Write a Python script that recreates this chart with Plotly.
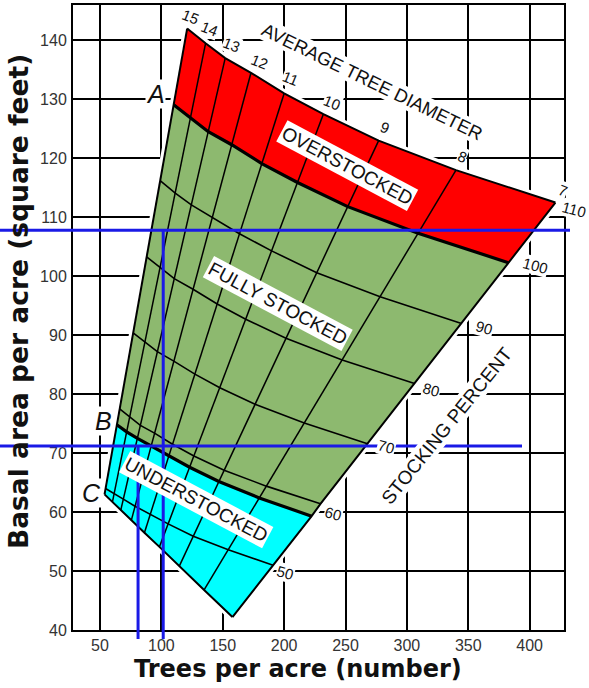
import plotly.graph_objects as go

# ---------------- data ----------------
DIAMETERS = [15, 14, 13, 12, 11, 10, 9, 8, 7]          # average tree diameter lines (inches)
STOCK_LEVELS = [110, 100, 90, 80, 70, 60, 50]           # stocking percent curves

# trees per acre / basal area at each diameter line (15" -> 7"), per stocking curve
N_110 = [121, 136, 152, 173, 200, 232, 277, 340, 421]
BA_110 = [142, 139.5, 137, 134.5, 131, 127.5, 123, 118, 112.5]
N_100 = [110, 123.6, 138.2, 157.3, 181.8, 210.9, 251.8, 309.1, 382.7]
BA_100 = [129.1, 126.8, 124.5, 122.3, 119.1, 115.9, 111.8, 107.3, 102.3]
N_90 = [99, 111.3, 124.4, 141.5, 163.6, 189.8, 226.6, 278.2, 344.5]
BA_90 = [116.2, 114.1, 112.1, 110.0, 107.2, 104.3, 100.6, 96.5, 92.0]
N_80 = [88, 98.9, 110.5, 125.8, 145.5, 168.7, 201.5, 247.3, 306.2]
BA_80 = [103.3, 101.5, 99.6, 97.8, 95.3, 92.7, 89.5, 85.8, 81.8]
N_70 = [77, 86.5, 96.7, 110.1, 127.3, 147.6, 176.3, 216.4, 267.9]
BA_70 = [90.4, 88.8, 87.2, 85.6, 83.4, 81.1, 78.3, 75.1, 71.6]
N_60 = [66, 74.2, 82.9, 94.4, 109.1, 126.5, 151.1, 185.5, 229.6]
BA_60 = [77.5, 76.1, 74.7, 73.4, 71.5, 69.5, 67.1, 64.4, 61.4]
N_B = [63.7, 71.7, 80.5, 91.6, 106.1, 123, 146.8, 179.8, 222.4]
BA_B = [74.8, 73.6, 72.5, 71.2, 69.5, 67.6, 65.2, 62.4, 59.3]
N_50 = [54.5, 61.5, 69, 78.5, 91, 105.5, 126, 154.5, 191]
BA_50 = [64, 63.2, 62.2, 61, 59.6, 58, 55.9, 53.6, 51]
N_LOW = [53.7, 60.1, 66.9, 75.5, 86.2, 98.4, 114.5, 134.8, 157.9]
BA_LOW = [63, 61.7, 60.3, 58.6, 56.5, 54.1, 50.8, 46.8, 42.2]

# example readings marked with blue lines (trees per acre, basal area)
EX_TREES = [101.5, 81]
EX_BA = [107.8, 71.2]

X_TICKS = [50, 100, 150, 200, 250, 300, 350, 400]
Y_TICKS = [40, 50, 60, 70, 80, 90, 100, 110, 120, 130, 140]
X_RANGE = [28, 428]
Y_RANGE = [40, 146]

# ---------------- styling ----------------
W, H = 589, 688
ML, MR, MT, MB = 73, 25, 5, 58
PW, PH = W - ML - MR, H - MT - MB
RED, GREEN, CYAN, BLUE = "#FF0000", "#8DB96F", "#00FFFF", "#1A1AE6"
TXT = "#111111"
SANS = "Liberation Sans, Arial, sans-serif"


def pp(xp, yp):
    """figure pixel -> paper coords"""
    return (xp - ML) / PW, (H - MB - yp) / PH


def ypaper(v):
    return (v - Y_RANGE[0]) / (Y_RANGE[1] - Y_RANGE[0])


fig = go.Figure()

# white halo around the stocking area
fig.add_trace(go.Scatter(x=N_110 + N_LOW[::-1] + [N_110[0]], y=BA_110 + BA_LOW[::-1] + [BA_110[0]],
                         mode="lines", line=dict(color="white", width=8), hoverinfo="skip"))


def zone(nt, bt, nb, bb, color):
    fig.add_trace(go.Scatter(x=nt + nb[::-1], y=bt + bb[::-1], mode="lines", fill="toself",
                             fillcolor=color, line=dict(width=0, color=color), hoverinfo="skip"))


zone(N_110, BA_110, N_100, BA_100, RED)
zone(N_100, BA_100, N_B, BA_B, GREEN)
zone(N_B, BA_B, N_LOW, BA_LOW, CYAN)

# stocking percent curves
curves = [(N_110, BA_110, 2), (N_100, BA_100, 3.2), (N_90, BA_90, 1.6), (N_80, BA_80, 1.6),
          (N_70, BA_70, 1.6), (N_60, BA_60, 1.6), (N_B, BA_B, 3.2), (N_50, BA_50, 1.6),
          (N_LOW, BA_LOW, 2)]
for n, b, w in curves:
    fig.add_trace(go.Scatter(x=n, y=b, mode="lines", line=dict(color="black", width=w),
                             hoverinfo="skip"))

# average tree diameter lines
for i, d in enumerate(DIAMETERS):
    xs = [c[0][i] for c in curves]
    ys = [c[1][i] for c in curves]
    w = 2 if i in (0, len(DIAMETERS) - 1) else 1.5
    fig.add_trace(go.Scatter(x=xs, y=ys, mode="lines", line=dict(color="black", width=w),
                             hoverinfo="skip", name=f'{d}"'))

# blue example lines
shapes = []
for tx, ba, xend in [(EX_TREES[0], EX_BA[0], 570), (EX_TREES[1], EX_BA[1], 522)]:
    shapes.append(dict(type="line", xref="paper", yref="y", x0=pp(0, 0)[0], x1=pp(xend, 0)[0],
                       y0=ba, y1=ba, line=dict(color=BLUE, width=3), layer="above"))
    shapes.append(dict(type="line", xref="x", yref="paper", x0=tx, x1=tx,
                       y0=pp(0, 639)[1], y1=ypaper(ba), line=dict(color=BLUE, width=3), layer="above"))

ann = []


def label(text, xp, yp, size=13, angle=0, bg="white", font=SANS, italic=False, bold=False,
          pad=1, color=TXT):
    x, y = pp(xp, yp)
    ann.append(dict(text=text, x=x, y=y, xref="paper", yref="paper", showarrow=False,
                    textangle=angle, bgcolor=bg, borderpad=pad, xanchor="center", yanchor="middle",
                    font=dict(family=font, size=size, color=color,
                              style="italic" if italic else "normal",
                              weight="bold" if bold else "normal")))


# diameter labels along the top
diam_pos = [(190, 17), (209, 29), (231, 45), (259, 62), (291, 78), (332, 102), (385, 127),
            (462, 157), (563, 190)]
for d, (xp, yp) in zip(DIAMETERS, diam_pos):
    label(str(d), xp, yp, size=15, angle=22, pad=0)

# stocking percent labels on the right edge
stock_pos = [(574, 210), (535, 265), (484, 327), (431, 389), (386, 446), (333, 513), (285, 572)]
for s, (xp, yp) in zip(STOCK_LEVELS, stock_pos):
    label(str(s), xp, yp, size=15, angle=15, pad=0)

label("AVERAGE TREE DIAMETER", 372, 81, size=18.5, angle=26, pad=0)
label("STOCKING PERCENT", 446, 426, size=19, angle=-51, pad=0)
label("OVERSTOCKED", 347, 165, size=19, angle=28, pad=1)
label("FULLY STOCKED", 278, 303, size=19, angle=28, pad=1)
label("UNDERSTOCKED", 196, 499, size=19, angle=28, pad=1)
label("A", 155, 94, size=25, italic=True, pad=0)
label("B", 103, 421, size=25, italic=True, pad=0)
label("C", 91, 493, size=25, italic=True, pad=0)

# axis titles
label("Trees per acre (number)", 298, 669, size=24, bold=True, bg="rgba(0,0,0,0)",
      font="DejaVu Sans, sans-serif", pad=0)
label("Basal area per acre (square feet)", 18, 302, size=26.5, bold=True, angle=-90,
      bg="rgba(0,0,0,0)", font="DejaVu Sans, sans-serif", pad=0)

axis_common = dict(showgrid=True, gridcolor="black", gridwidth=2, showline=True, linecolor="black",
                   linewidth=2, mirror=True, zeroline=False, ticks="",
                   tickfont=dict(family=SANS, size=16, color="#333333"), fixedrange=True)

fig.update_layout(
    width=W, height=H, margin=dict(l=ML, r=MR, t=MT, b=MB, autoexpand=False),
    paper_bgcolor="white", plot_bgcolor="white", showlegend=False,
    xaxis=dict(range=X_RANGE, tickvals=X_TICKS, ticklabelstandoff=0, **axis_common),
    yaxis=dict(range=Y_RANGE, tickvals=Y_TICKS, ticklabelstandoff=1, **axis_common),
    shapes=shapes, annotations=ann,
)

fig.write_html("out.html", config={"displayModeBar": False},
               post_script="document.body.style.margin='0px';")
